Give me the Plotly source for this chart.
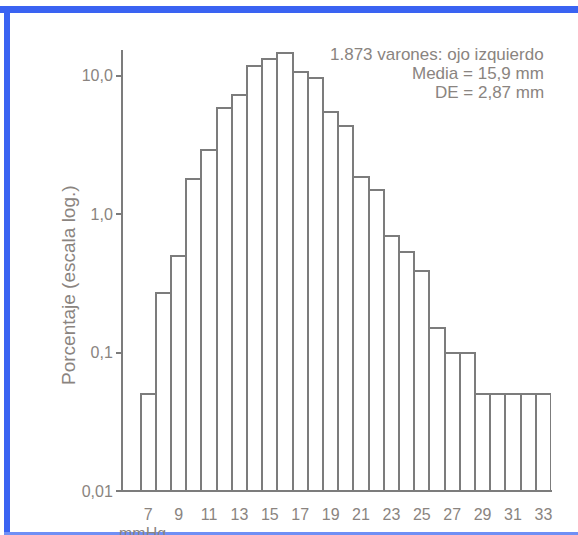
import plotly.graph_objects as go

# Data
pressures = list(range(7, 34))
percent = [0.05, 0.27, 0.5, 1.8, 2.9, 5.8, 7.2, 11.7, 13.3, 14.5, 10.7, 9.7, 5.5, 4.3,
           1.85, 1.5, 0.69, 0.53, 0.39, 0.15, 0.1, 0.1, 0.05, 0.05, 0.05, 0.05, 0.05]
x_tick_vals = list(range(7, 34, 2))
y_tick_vals = [0.01, 0.1, 1, 10]
y_tick_text = ["0,01", "0,1", "1,0", "10,0"]
info_lines = ["1.873 varones: ojo izquierdo", "Media = 15,9 mm", "DE = 2,87 mm"]

W, H = 578, 535
L, R, T, B = 123, 551, 50, 491  # plot area pixels

LINE = "#7c7c7c"
TXT = "#8a8480"
FONT = "Liberation Sans, Arial, sans-serif"
FS = 16
BLUE = "#3a63f2"

def px(p):
    return (p - L) / (R - L)

def py(p):
    return (B - p) / (B - T)

fig = go.Figure()
fig.add_trace(go.Bar(
    x=pressures, y=percent, width=1,
    marker=dict(color="white", line=dict(color=LINE, width=2)),
    showlegend=False, hoverinfo="x+y",
))

fig.update_layout(
    width=W, height=H,
    margin=dict(l=L, r=W - R, t=T, b=H - B, pad=0),
    paper_bgcolor="white", plot_bgcolor="white",
    bargap=0,
    font=dict(family=FONT, color=TXT, size=FS),
    xaxis=dict(
        range=[5.34, 33.5], showgrid=False, zeroline=False,
        tickvals=x_tick_vals, ticks="outside", ticklen=9, tickcolor="rgba(0,0,0,0)",
        showline=False, tickfont=dict(size=FS, color=TXT, family=FONT),
    ),
    yaxis=dict(
        type="log", range=[-2, 1.186], showgrid=False, zeroline=False,
        tickvals=y_tick_vals, ticktext=y_tick_text, ticks="outside", ticklen=5,
        tickwidth=2, tickcolor=LINE, showline=True, linecolor=LINE, linewidth=2,
        tickfont=dict(size=FS, color=TXT, family=FONT),
    ),
)

shapes = []
# x-axis baseline (extends slightly left of the y-axis)
shapes.append(dict(type="line", xref="paper", yref="paper", x0=px(118), x1=px(552), y0=0, y1=0,
                   line=dict(color=LINE, width=2)))
# blue frame
shapes.append(dict(type="rect", xref="paper", yref="paper", x0=px(0), x1=px(W), y0=py(6), y1=py(13),
                   fillcolor=BLUE, line=dict(width=0)))
shapes.append(dict(type="rect", xref="paper", yref="paper", x0=px(4), x1=px(10), y0=py(6), y1=py(H + 10),
                   fillcolor=BLUE, line=dict(width=0)))
shapes.append(dict(type="rect", xref="paper", yref="paper", x0=px(4), x1=px(W), y0=py(532), y1=py(535),
                   fillcolor="#6f8ff5", line=dict(width=0)))
fig.update_layout(shapes=shapes)

annotations = []
for i, t in enumerate(info_lines):
    annotations.append(dict(text=t, xref="paper", yref="paper", x=px(546), y=py(55 + 18.5 * i),
                            xanchor="right", yanchor="middle", showarrow=False,
                            font=dict(size=17, color=TXT, family=FONT)))
annotations.append(dict(text="Porcentaje (escala log.)", xref="paper", yref="paper",
                        x=px(68), y=py(285), textangle=-90, xanchor="center", yanchor="middle",
                        showarrow=False, font=dict(size=19, color=TXT, family=FONT)))
annotations.append(dict(text="mmHg", xref="paper", yref="paper", x=px(142), y=py(523),
                        xanchor="center", yanchor="top", showarrow=False,
                        font=dict(size=FS, color=TXT, family=FONT)))
fig.update_layout(annotations=annotations)

fig.write_html("out.html", config={"displayModeBar": False},
               post_script="document.body.style.margin='0';document.body.style.overflow='hidden';")
